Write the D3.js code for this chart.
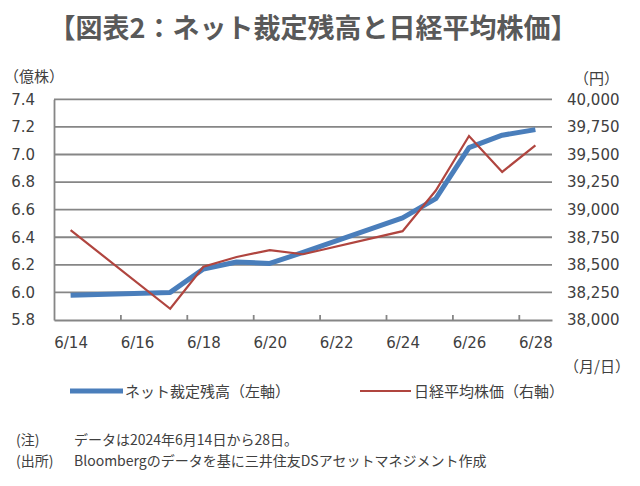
<!DOCTYPE html>
<html><head><meta charset="utf-8">
<script src="https://cdn.jsdelivr.net/npm/d3@7"></script>
<style>
body{margin:0;background:#fff;}
svg{display:block;}
text{fill:#404040;}
</style></head>
<body>
<svg id="chart" width="640" height="486"></svg>
<script>
const dates = ["2024-06-14","2024-06-17","2024-06-18","2024-06-19","2024-06-20","2024-06-21","2024-06-24","2024-06-25","2024-06-26","2024-06-27","2024-06-28"];
const arbitrage = [5.98, 6.00, 6.17, 6.22, 6.21, 6.29, 6.54, 6.68, 7.05, 7.14, 7.18];
const nikkei = [38814, 38102, 38482, 38571, 38633, 38596, 38805, 39173, 39667, 39342, 39583];
const leftTicks = [5.8, 6.0, 6.2, 6.4, 6.6, 6.8, 7.0, 7.2, 7.4];
const rightTicks = [38000, 38250, 38500, 38750, 39000, 39250, 39500, 39750, 40000];
const xLabelDates = ["2024-06-14","2024-06-16","2024-06-18","2024-06-20","2024-06-22","2024-06-24","2024-06-26","2024-06-28"];
const seriesNames = ["ネット裁定残高（左軸）", "日経平均株価（右軸）"];
const title = "【図表2：ネット裁定残高と日経平均株価】";
const notes = [["(注)", "データは2024年6月14日から28日。"], ["(出所)", "Bloombergのデータを基に三井住友DSアセットマネジメント作成"]];

const JP = '"Noto Sans CJK JP", "Noto Sans", sans-serif';
const NUM = '"DejaVu Sans", "Noto Sans CJK JP", sans-serif';
const parse = d3.timeParse("%Y-%m-%d");
const svg = d3.select("#chart");
const L = 54, R = 552, T = 99.3, B = 320;
const blue = "#4a7ebb", red = "#b0453f", grid = "#868686";

const d0 = parse(dates[0]), d1 = parse(dates[dates.length - 1]);
const x = d3.scaleTime()
  .domain([d3.timeHour.offset(d0, -12), d3.timeHour.offset(d1, 12)])
  .range([L, R]);
const yL = d3.scaleLinear().domain([5.8, 7.4]).range([B, T]);
const yR = d3.scaleLinear().domain([38000, 40000]).range([B, T]);

// title
svg.append("text")
  .attr("x", 313).attr("y", 38).attr("text-anchor", "middle")
  .style("font-family", JP).style("font-size", "27px").style("font-weight", "bold").style("fill", "#595959")
  .text(title);

// gridlines
svg.append("g").selectAll("line").data(leftTicks.slice(1)).join("line")
  .attr("x1", L).attr("x2", R)
  .attr("y1", d => yL(d)).attr("y2", d => yL(d))
  .attr("stroke", grid).attr("stroke-width", 1.8);

function styleNum(g) {
  g.selectAll("text").style("font-family", NUM).style("font-size", "15px").style("fill", "#404040");
}

// left axis
const gL = svg.append("g").attr("transform", `translate(${L},0)`)
  .call(d3.axisLeft(yL).tickValues(leftTicks).tickFormat(d3.format(".1f")).tickSize(0).tickPadding(19));
gL.select(".domain").attr("stroke", grid).attr("stroke-width", 1.8);
styleNum(gL);

// right axis
const gR = svg.append("g").attr("transform", `translate(${R},0)`)
  .call(d3.axisRight(yR).tickValues(rightTicks).tickFormat(d3.format(",")).tickSize(0).tickPadding(15));
gR.select(".domain").remove();
styleNum(gR);

// bottom axis labels
const gX = svg.append("g").attr("transform", `translate(0,${B})`)
  .call(d3.axisBottom(x).tickValues(xLabelDates.map(parse)).tickFormat(d3.timeFormat("%-m/%-d")).tickSize(0).tickPadding(17));
gX.select(".domain").attr("stroke", grid).attr("stroke-width", 1.8);
styleNum(gX);

// bottom tick marks between days
const tickMarks = xLabelDates.slice(0, -1).map(s => d3.timeHour.offset(parse(s), 36));
const gXt = svg.append("g").attr("transform", `translate(0,${B})`)
  .call(d3.axisBottom(x).tickValues(tickMarks).tickFormat("").tickSizeInner(-5).tickSizeOuter(0));
gXt.select(".domain").remove();
gXt.selectAll("line").attr("stroke", grid).attr("stroke-width", 1.8);

// unit labels
function jpText(xp, yp, s, size, anchor) {
  return svg.append("text").attr("x", xp).attr("y", yp).attr("text-anchor", anchor || "start")
    .style("font-family", JP).style("font-size", size + "px").style("fill", "#404040").text(s);
}
jpText(4, 82, "（億株）", 15);
jpText(574, 84, "（円）", 15);
jpText(630, 372, "（月/日）", 15, "end");

// lines
const pts = dates.map(parse);
svg.append("path")
  .attr("d", d3.line().x((d, i) => x(pts[i])).y(d => yL(d))(arbitrage))
  .attr("fill", "none").attr("stroke", blue).attr("stroke-width", 5).attr("stroke-linejoin", "round");
svg.append("path")
  .attr("d", d3.line().x((d, i) => x(pts[i])).y(d => yR(d))(nikkei))
  .attr("fill", "none").attr("stroke", red).attr("stroke-width", 2.2).attr("stroke-linejoin", "miter");

// legend
svg.append("line").attr("x1", 70).attr("x2", 123).attr("y1", 391).attr("y2", 391).attr("stroke", blue).attr("stroke-width", 5);
jpText(125, 396.5, seriesNames[0], 15);
svg.append("line").attr("x1", 360).attr("x2", 411).attr("y1", 391).attr("y2", 391).attr("stroke", red).attr("stroke-width", 2.2);
jpText(414, 396.5, seriesNames[1], 15);

// notes
notes.forEach((n, i) => {
  jpText(16, 445 + i * 21, n[0], 14);
  jpText(74, 445 + i * 21, n[1], 14);
});
</script>
</body></html>
